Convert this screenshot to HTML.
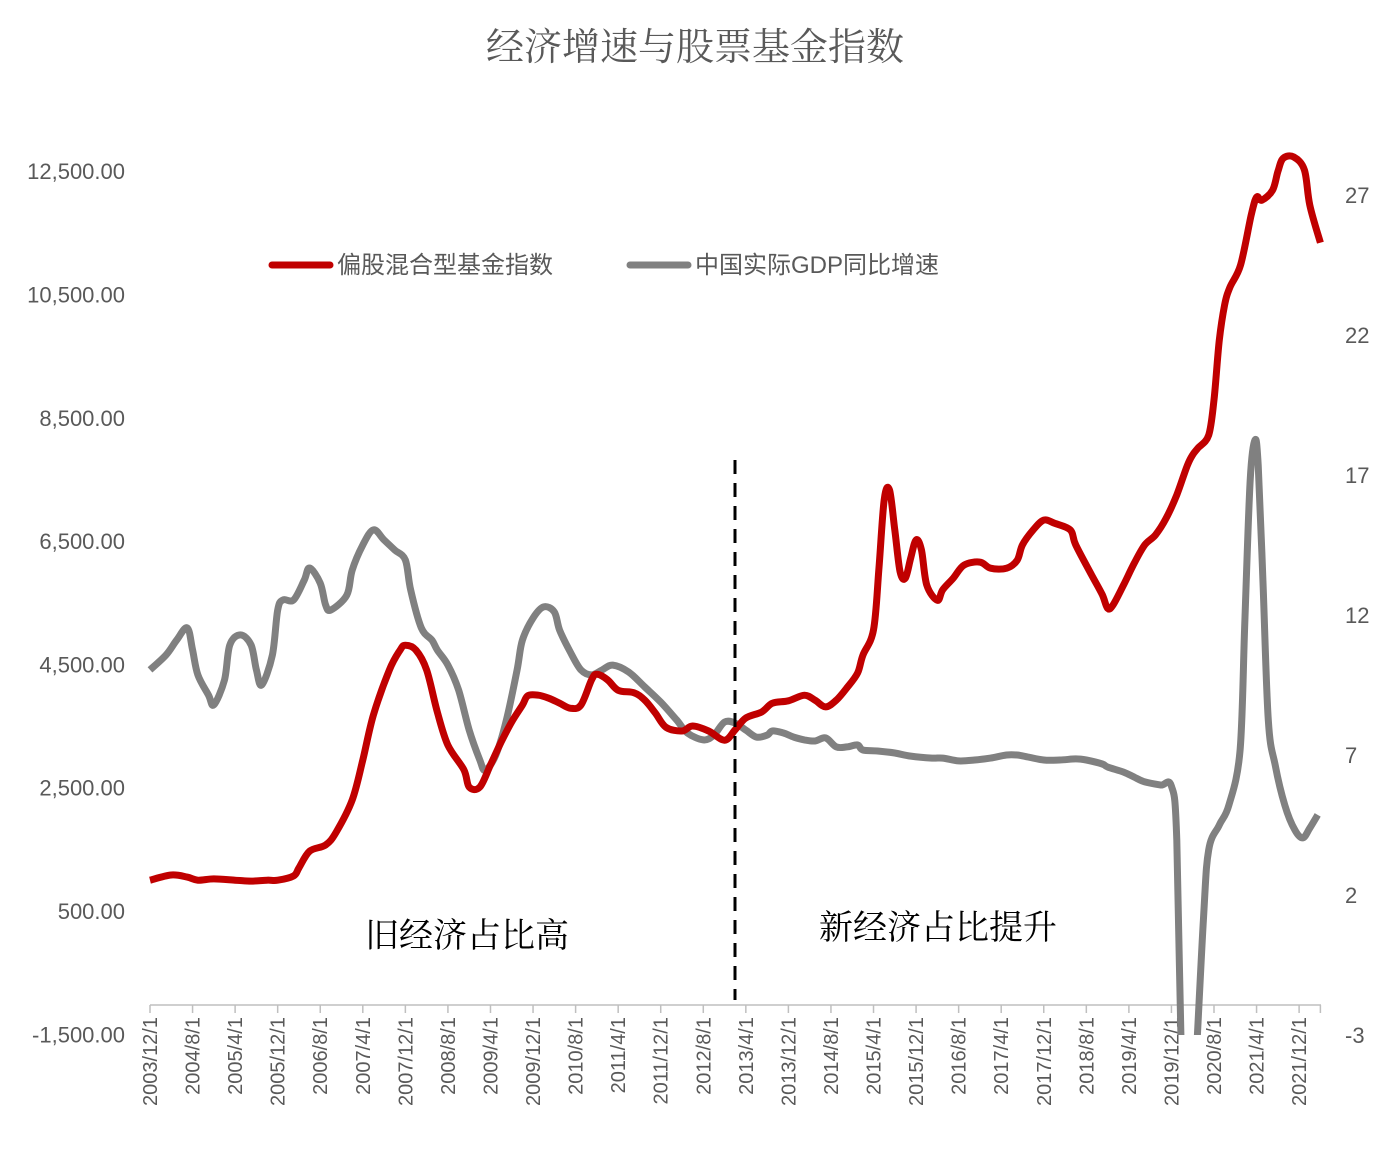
<!DOCTYPE html>
<html><head><meta charset="utf-8">
<style>
html,body{margin:0;padding:0;background:#fff;}
svg{display:block;font-family:"Liberation Sans","Noto Sans CJK SC",sans-serif;}
</style></head>
<body>
<svg id="chart" width="1385" height="1156" viewBox="0 0 1385 1156" xmlns="http://www.w3.org/2000/svg">
<rect width="1385" height="1156" fill="#fff"/>
<text x="695" y="60" text-anchor="middle" font-size="38" fill="#595959" font-family="'Liberation Serif','Noto Serif CJK SC',serif">经济增速与股票基金指数</text>
<g id="legend">
  <g>
    <line x1="272" y1="265" x2="330" y2="265" stroke="#C00000" stroke-width="7" stroke-linecap="round"/>
    <text x="337" y="273" font-size="24" fill="#595959">偏股混合型基金指数</text>
  </g>
  <g>
    <line x1="630" y1="265" x2="688" y2="265" stroke="#808080" stroke-width="7" stroke-linecap="round"/>
    <text x="695" y="273" font-size="24" fill="#595959">中国实际GDP同比增速</text>
  </g>
</g>
<defs><clipPath id="plotclip"><rect x="140" y="100" width="1200" height="935"/></clipPath></defs>
<g id="axes"></g>
<g id="series" clip-path="url(#plotclip)"></g>
<line x1="735" y1="460" x2="735" y2="1000" stroke="#000" stroke-width="3" stroke-dasharray="14,9"/>
<text x="467" y="947" text-anchor="middle" font-size="34" fill="#000" font-family="'Liberation Serif','Noto Serif CJK SC',serif">旧经济占比高</text>
<text x="938" y="939" text-anchor="middle" font-size="34" fill="#000" font-family="'Liberation Serif','Noto Serif CJK SC',serif">新经济占比提升</text>
</svg>
<script>
const leftTicks = [-1500, 500, 2500, 4500, 6500, 8500, 10500, 12500];
const rightTicks = [-3, 2, 7, 12, 17, 22, 27];
const dateLabels = ["2003/12/1","2004/8/1","2005/4/1","2005/12/1","2006/8/1","2007/4/1","2007/12/1","2008/8/1","2009/4/1","2009/12/1","2010/8/1","2011/4/1","2011/12/1","2012/8/1","2013/4/1","2013/12/1","2014/8/1","2015/4/1","2015/12/1","2016/8/1","2017/4/1","2017/12/1","2018/8/1","2019/4/1","2019/12/1","2020/8/1","2021/4/1","2021/12/1"];
const labelStepMonths = 8;
// months since 2003/12
const fundMonths = [0,4,7,9,12,16,19,22,24,27,28,30,33,35,38,40,42,45,47,48,50,52,54,56,59,60,62,64,66,68,70,71,73,75,77,79,81,83,84,86,88,91,93,95,97,100,102,105,108,110,112,115,117,120,123,125,127,129,131,133,134,136,137,138,139,140,141,142,143,144,145,146,148,149,151,153,156,158,161,163,164,166,168,170,173,174,177,179,180,181,183,185,187,189,191,193,195,196,197,199,200,201,202,203,205,207,208,209,211,212,213,215,217,218,220];
const fundValues = [1000,1084,1050,1000,1020,1000,985,1000,1000,1070,1200,1470,1570,1780,2300,2950,3680,4410,4730,4810,4730,4410,3730,3190,2790,2510,2510,2870,3240,3570,3840,3990,4000,3950,3870,3790,3840,4250,4340,4250,4080,4040,3920,3710,3480,3420,3500,3420,3270,3440,3630,3730,3870,3910,4000,3920,3810,3920,4120,4360,4650,5060,6030,7170,7330,6680,6000,5900,6230,6520,6360,5790,5540,5710,5900,6110,6160,6060,6060,6190,6440,6680,6840,6790,6680,6440,5950,5630,5410,5460,5790,6140,6440,6600,6870,7250,7730,7900,8010,8220,8790,9760,10330,10620,10980,11790,12080,12030,12190,12490,12710,12730,12520,11950,11340];
const gdpMonths = [0,3,5,7,8,9,11,12,14,15,17,19,20,21,23,24,25,27,29,30,32,33,34,37,38,40,42,44,46,48,49,51,53,54,56,58,60,62,63,65,67,69,70,72,74,76,77,79,81,83,85,87,90,93,96,99,101,104,106,108,110,112,114,116,117,119,121,123,125,127,129,131,133,134,137,140,143,147,149,152,155,158,161,163,165,168,171,174,176,179,180,183,185,187,190,192,193,194,195,196,198,199,201,202.8,204.9,205.8,206.8,207.7,208.3,209.2,210.2,211.5,213.3,215.2,216.7,218,219.5];
const gdpValues = [10.04,10.57,11.1,11.54,10.75,9.86,9.14,8.79,9.68,10.93,11.29,10.93,10.04,9.5,10.57,12.18,12.54,12.54,13.25,13.68,13.14,12.36,12.18,12.71,13.6,14.5,15.04,14.68,14.32,13.96,12.89,11.54,11.1,10.75,10.21,9.32,7.89,6.82,6.46,7.0,8.25,10.04,11.1,11.89,12.29,12.11,11.46,10.68,10.04,9.86,10.04,10.21,9.96,9.43,8.89,8.25,7.79,7.54,7.71,8.18,8.14,7.89,7.64,7.71,7.86,7.79,7.64,7.54,7.5,7.61,7.29,7.29,7.36,7.18,7.14,7.07,6.96,6.89,6.89,6.79,6.82,6.89,7.0,7.0,6.93,6.82,6.82,6.86,6.82,6.68,6.57,6.39,6.21,6.04,5.93,5.89,3.96,-5,-6.8,-6,1.11,3.61,4.5,5.21,7.18,11.82,16.82,18.25,17.36,13.25,8.25,6.64,5.21,4.32,4.04,4.39,4.86];

const NS="http://www.w3.org/2000/svg";
const X0=150, PX_PER_MONTH=5.32;
const xs = m => X0 + m*PX_PER_MONTH;
const yL = v => 911 - (v-500)*123.3/2000;
const yR = v => 895 - (v-2)*28;
const axes=document.getElementById('axes'), series=document.getElementById('series');
function mk(tag, attrs, parent){const e=document.createElementNS(NS,tag);for(const k in attrs)e.setAttribute(k,attrs[k]);parent.appendChild(e);return e;}

leftTicks.forEach(v=>{
  const t=mk('text',{x:125,y:yL(v)+8,'text-anchor':'end','font-size':22,fill:'#595959'},axes);
  
  
  t.textContent=v.toLocaleString('en-US',{minimumFractionDigits:2});
});
rightTicks.forEach(v=>{
  const t=mk('text',{x:1345,y:yR(v)+8,'font-size':22,fill:'#595959'},axes);
  
  
  t.textContent=String(v);
});
const axisY=1005;
const xl=mk('line',{x1:X0,y1:axisY,x2:1321,y2:axisY,stroke:'#bfbfbf','stroke-width':1.5},axes);


dateLabels.forEach((d,i)=>{
  const x=xs(i*labelStepMonths);
  const tk=mk('line',{x1:x,y1:axisY,x2:x,y2:axisY+8,stroke:'#bfbfbf','stroke-width':1.5},axes);
  
  
  const t=mk('text',{x:0,y:0,'text-anchor':'end','font-size':20,fill:'#595959',transform:`translate(${x+7},${axisY+12}) rotate(-90)`},axes);
  
  
  t.textContent=d;
});
const ex=xs(220);
const et=mk('line',{x1:ex,y1:axisY,x2:ex,y2:axisY+8,stroke:'#bfbfbf','stroke-width':1.5},axes);



function smooth(pts){
  let d=`M${pts[0][0]},${pts[0][1]}`;
  for(let i=0;i<pts.length-1;i++){
    const p0=pts[i-1]||pts[i],p1=pts[i],p2=pts[i+1],p3=pts[i+2]||p2;
    const c1=[p1[0]+(p2[0]-p0[0])/6,p1[1]+(p2[1]-p0[1])/6];
    const c2=[p2[0]-(p3[0]-p1[0])/6,p2[1]-(p3[1]-p1[1])/6];
    d+=` C${c1[0].toFixed(1)},${c1[1].toFixed(1)} ${c2[0].toFixed(1)},${c2[1].toFixed(1)} ${p2[0].toFixed(1)},${p2[1].toFixed(1)}`;
  }
  return d;
}
const g=mk('path',{d:smooth(gdpMonths.map((m,i)=>[xs(m),yR(gdpValues[i])])),fill:'none',stroke:'#808080','stroke-width':7,'stroke-linejoin':'round'},series);


const r=mk('path',{d:smooth(fundMonths.map((m,i)=>[xs(m),yL(fundValues[i])])),fill:'none',stroke:'#C00000','stroke-width':7,'stroke-linejoin':'round'},series);


</script>
</body></html>
